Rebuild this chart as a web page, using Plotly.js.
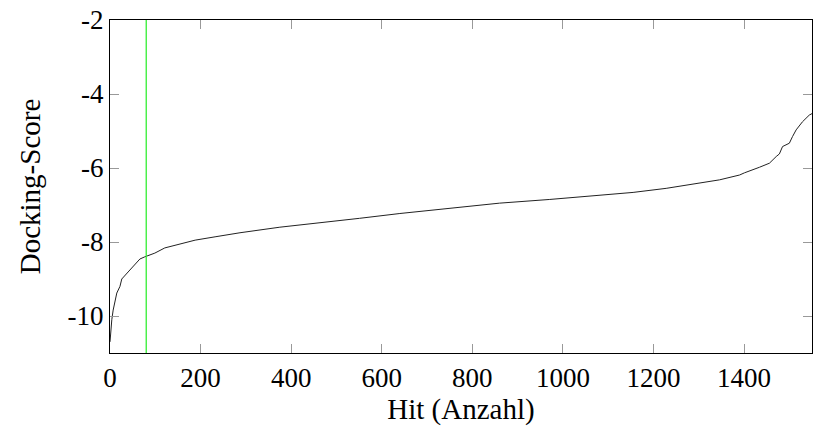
<!DOCTYPE html>
<html>
<head>
<meta charset="utf-8">
<script src="https://cdn.plot.ly/plotly-3.0.1.min.js"></script>
<style>html,body{margin:0;padding:0;background:#fff;}#plot{width:813px;height:427px;}</style>
</head>
<body>
<div id="plot"></div>
<script>
// Hit index (sorted) and docking score
const hits = [0, 2, 4, 7, 11, 15, 22, 26, 40, 55, 66, 77, 99, 121, 165, 188, 232, 287, 375, 463, 551, 640, 750, 860, 971, 1081, 1155, 1228, 1302, 1346, 1390, 1401, 1434, 1456, 1471, 1478, 1485, 1500, 1507, 1515, 1529, 1544, 1550];
const scores = [-10.7, -10.35, -10.1, -9.84, -9.6, -9.38, -9.2, -9.0, -8.81, -8.62, -8.46, -8.4, -8.3, -8.16, -8.03, -7.95, -7.86, -7.75, -7.6, -7.47, -7.36, -7.23, -7.09, -6.95, -6.85, -6.73, -6.66, -6.55, -6.41, -6.32, -6.19, -6.13, -5.98, -5.87, -5.69, -5.62, -5.42, -5.33, -5.15, -4.97, -4.75, -4.57, -4.53];
// Marker (green vertical line) position
const markerHit = 80;
const yRange = [-11, -2];
const xTickVals = [0, 200, 400, 600, 800, 1000, 1200, 1400];
const xTickText = ["0", "200", "400", "600", "800", "1000", "1200", "1400"];
const yTickVals = [-10, -8, -6, -4, -2];
const yTickText = ["-10", "-8", "-6", "-4", "-2"];

const fam = "Liberation Serif, Times New Roman, serif";
const tickFont = {family: fam, size: 27, color: "#000"};
const titleFont = {family: fam, size: 29, color: "#000"};

const traces = [
  {x: hits, y: scores, mode: "lines", line: {color: "#222", width: 1}, hoverinfo: "skip", showlegend: false},
  {x: [markerHit, markerHit], y: yRange, mode: "lines", line: {color: "#33ee33", width: 1.3}, hoverinfo: "skip", showlegend: false}
];

const layout = {
  width: 813, height: 427,
  margin: {l: 110, r: 1, t: 20, b: 74},
  paper_bgcolor: "#fff", plot_bgcolor: "#fff",
  font: tickFont,
  showlegend: false,
  xaxis: {
    range: [0, 1550], showgrid: false, zeroline: false,
    showline: true, linecolor: "#000", linewidth: 1.2, mirror: "allticks",
    ticks: "inside", ticklen: 9, tickcolor: "#999", tickwidth: 1,
    tickvals: xTickVals, ticktext: xTickText, tickfont: tickFont,
    title: {text: "Hit (Anzahl)", font: titleFont, standoff: 6}
  },
  yaxis: {
    range: yRange, showgrid: false, zeroline: false,
    showline: true, linecolor: "#000", linewidth: 1.2, mirror: "allticks",
    ticks: "inside", ticklen: 9, tickcolor: "#999", tickwidth: 1,
    tickvals: yTickVals, ticktext: yTickText, tickfont: tickFont,
    title: {text: "Docking-Score", font: titleFont, standoff: 18}
  }
};

Plotly.newPlot("plot", traces, layout, {staticPlot: true, displayModeBar: false});
</script>
</body>
</html>
